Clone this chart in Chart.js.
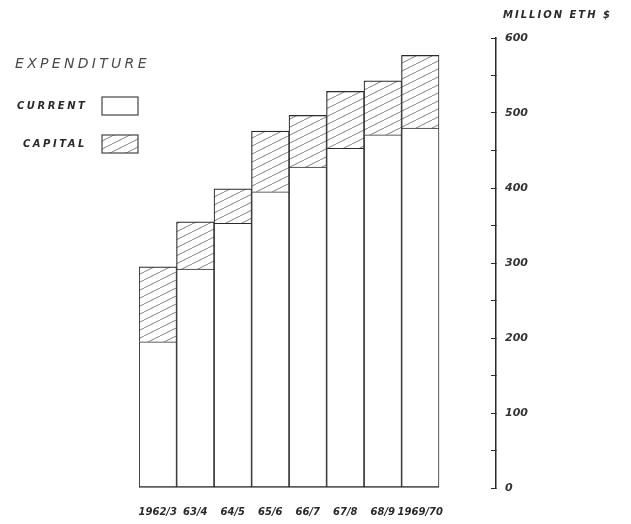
<!DOCTYPE html>
<html>
<head>
<meta charset="utf-8">
<script src="https://cdn.jsdelivr.net/npm/chart.js@4.4.1/dist/chart.umd.min.js"></script>
<style>
  html, body { margin: 0; padding: 0; background: #fff; }
  #wrap { width: 631px; height: 524px; }
</style>
</head>
<body>
<div id="wrap"><canvas id="chart"></canvas></div>
<script>
// Expenditure in million Eth $
const years = ['1962/3', '63/4', '64/5', '65/6', '66/7', '67/8', '68/9', '1969/70'];
const current = [195, 292, 353, 395, 428, 453, 471, 480];
const capital = [100, 63, 46, 81, 69, 76, 72, 97];

const INK = '#2a2a2a';
const FONT = "'DejaVu Sans', sans-serif";

// diagonal hatching for the capital part
function hatchPattern() {
  const c = document.createElement('canvas');
  c.width = 16;
  c.height = 8;
  const g = c.getContext('2d');
  g.fillStyle = '#fff';
  g.fillRect(0, 0, 16, 8);
  g.strokeStyle = '#808080';
  g.lineWidth = 1;
  g.beginPath();
  g.moveTo(-2, 9);
  g.lineTo(18, -1);
  g.stroke();
  return g.createPattern(c, 'repeat');
}
const hatch = hatchPattern();

// unit label, title and the legend with text before the box
const textPlugin = {
  id: 'texts',
  afterDraw(chart) {
    const ctx = chart.ctx;
    ctx.save();
    ctx.textBaseline = 'middle';
    ctx.textAlign = 'left';

    ctx.fillStyle = INK;
    ctx.font = 'italic bold 10px ' + FONT;
    ctx.letterSpacing = '2px';
    ctx.fillText('MILLION ETH $', 503, 15);

    ctx.fillStyle = '#4a4a4a';
    ctx.font = 'italic 14px ' + FONT;
    ctx.letterSpacing = '3.3px';
    ctx.fillText('EXPENDITURE', 15, 64);

    const rows = [{ x: 17, y: 106 }, { x: 23, y: 144 }];
    chart.data.datasets.forEach((ds, i) => {
      const r = rows[i];
      ctx.font = 'italic bold 10px ' + FONT;
      ctx.letterSpacing = '2.5px';
      ctx.fillStyle = INK;
      ctx.fillText(ds.label, r.x, r.y);
      ctx.fillStyle = ds.backgroundColor;
      ctx.fillRect(102, r.y - 9, 36, 18);
      ctx.strokeStyle = '#444';
      ctx.lineWidth = 1.2;
      ctx.strokeRect(102, r.y - 9, 36, 18);
    });
    ctx.restore();
  }
};

const ctx = document.getElementById('chart').getContext('2d');
new Chart(ctx, {
  type: 'bar',
  data: {
    datasets: [
      {
        label: 'CURRENT',
        data: current.map((v, i) => ({ x: i, y: v })),
        backgroundColor: '#fff',
        borderColor: INK,
        borderWidth: { top: 1.2, left: 1.2, right: 1, bottom: 1.5 },
        borderSkipped: false,
        barPercentage: 1,
        categoryPercentage: 1
      },
      {
        label: 'CAPITAL',
        data: capital.map((v, i) => ({ x: i, y: v })),
        backgroundColor: hatch,
        borderColor: INK,
        borderWidth: { top: 1.3, left: 1.2, right: 1, bottom: 0 },
        borderSkipped: false,
        barPercentage: 1,
        categoryPercentage: 1
      }
    ]
  },
  options: {
    responsive: true,
    maintainAspectRatio: false,
    animation: false,
    layout: { padding: { left: 139, top: 38, right: 0, bottom: 0 } },
    plugins: {
      legend: { display: false },
      tooltip: { enabled: false }
    },
    scales: {
      x: {
        type: 'linear',
        stacked: true,
        offset: false,
        min: -0.5,
        max: 9.02,
        grid: { display: false, drawTicks: false, offset: false },
        border: { display: false },
        afterBuildTicks(scale) {
          scale.ticks = years.map((_, i) => ({ value: i }));
        },
        afterFit(scale) {
          scale.height = 36;
        },
        ticks: {
          autoSkip: false,
          maxRotation: 0,
          padding: 18,
          color: INK,
          font: { family: FONT, size: 10, style: 'italic', weight: 'bold' },
          callback: (v) => years[v]
        }
      },
      y: {
        position: 'right',
        stacked: true,
        min: 0,
        max: 600,
        grid: { drawOnChartArea: false, tickLength: -5, color: INK, lineWidth: 1 },
        border: { color: INK, width: 1.5 },
        afterFit(scale) {
          scale.width = 135;
        },
        ticks: {
          stepSize: 50,
          autoSkip: false,
          padding: 14,
          color: '#333',
          font: { family: FONT, size: 11, style: 'italic', weight: 'bold' },
          callback: (v) => (v % 100 === 0 ? v : '')
        }
      }
    }
  },
  plugins: [textPlugin]
});
</script>
</body>
</html>
